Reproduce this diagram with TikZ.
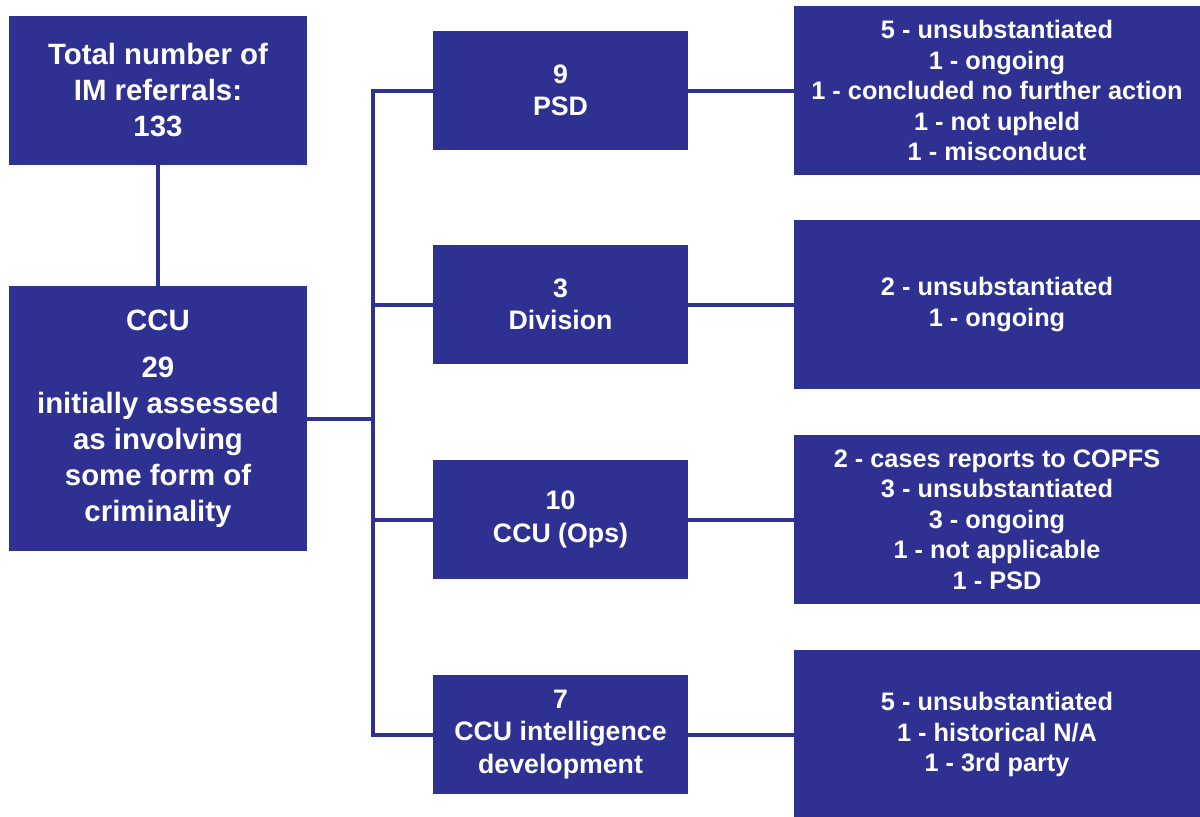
\documentclass[tikz,border=0pt]{standalone}
\usepackage{fontspec}
\setmainfont{Liberation Sans}
\usepackage{xcolor}
\usepackage{tikz}
\definecolor{refblue}{HTML}{2E3192}

\begin{document}
\begin{tikzpicture}[x=0.025cm, y=-0.025cm,
        box/.style={fill=refblue, text=white, align=center, inner sep=0pt},
        bigtext/.style={font=\fontsize{20.9}{25.6}\selectfont\bfseries},
        midtext/.style={font=\fontsize{19}{23.1}\selectfont\bfseries},
        smalltext/.style={font=\fontsize{18}{21.7}\selectfont\bfseries},
        link/.style={draw=refblue, line width=0.1cm, line cap=rect}]
        \useasboundingbox (0, 0) rectangle (1200, 816);

        \node[box, bigtext, minimum width=7.45cm, minimum height=3.725cm] (T) at (158, 90.5) {Total number of\\IM referrals:\\133};
        \node[box, bigtext, minimum width=7.45cm, minimum height=6.625cm] (C) at (158, 418.5) {CCU\\[8pt]29\\initially assessed\\as involving\\some form of\\criminality};

        \node[box, midtext, minimum width=6.375cm, minimum height=2.975cm] (P) at (560.5, 90.5) {9\\PSD};
        \node[box, midtext, minimum width=6.375cm, minimum height=2.975cm] (D) at (560.5, 304.5) {3\\Division};
        \node[box, midtext, minimum width=6.375cm, minimum height=2.975cm] (O) at (560.5, 519.5) {10\\CCU (Ops)};
        \node[box, midtext, minimum width=6.375cm, minimum height=2.975cm] (I) at (560.5, 734.5) {7\\CCU intelligence\\development};

        \node[box, smalltext, minimum width=10.15cm, minimum height=4.225cm] (PR) at (997, 90.5) {5 - unsubstantiated\\1 - ongoing\\1 - concluded no further action\\1 - not upheld\\1 - misconduct};
        \node[box, smalltext, minimum width=10.15cm, minimum height=4.225cm] (DR) at (997, 304.5) {2 - unsubstantiated\\1 - ongoing};
        \node[box, smalltext, minimum width=10.15cm, minimum height=4.225cm] (OR) at (997, 519.5) {2 - cases reports to COPFS\\3 - unsubstantiated\\3 - ongoing\\1 - not applicable\\1 - PSD};
        \node[box, smalltext, minimum width=10.15cm, minimum height=4.225cm] (IR) at (997, 734.5) {5 - unsubstantiated\\1 - historical N/A\\1 - 3rd party};

        \coordinate (J) at (373, 418.5);
        \coordinate (J1) at (373, 90.5);
        \coordinate (J2) at (373, 304.5);
        \coordinate (J3) at (373, 519.5);
        \coordinate (J4) at (373, 734.5);

        \path [link] (T) edge (C);
        \path [link] (C) edge (J);
        \path [link] (J1) edge (J4);

        \path [link] (J1) edge (P);
        \path [link] (J2) edge (D);
        \path [link] (J3) edge (O);
        \path [link] (J4) edge (I);

        \path [link] (P) edge (PR);
        \path [link] (D) edge (DR);
        \path [link] (O) edge (OR);
        \path [link] (I) edge (IR);
    \end{tikzpicture}
\end{document}
